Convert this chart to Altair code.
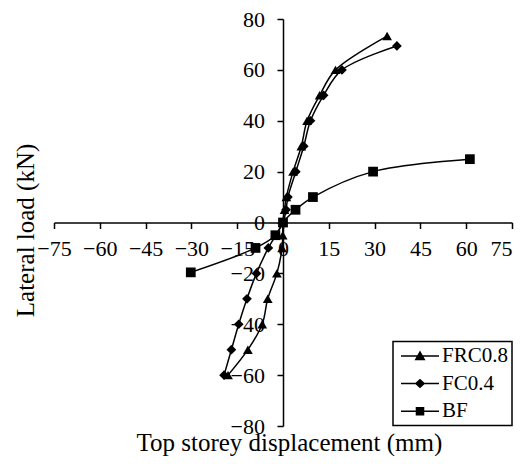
import altair as alt
import pandas as pd

series_names = ["FRC0.8", "FC0.4", "BF"]

frc_disp = [-18.0, -11.5, -6.8, -5.0, -2.0, -0.3, -0.1, 0.0, 0.5, 1.1, 3.3, 6.0, 7.9, 12.0, 17.2, 34.1]
frc_load = [-60, -50, -40, -30, -20, -10, -5, 0, 5, 10, 20, 30, 40, 50, 60, 73.3]

fc_disp = [-19.3, -16.9, -14.5, -11.8, -8.7, -4.8, 0.0, 1.0, 1.6, 4.2, 6.8, 9.0, 13.3, 19.3, 37.3]
fc_load = [-60, -50, -40, -30, -20, -10, 0, 5, 10, 20, 30, 40, 50, 60, 69.4]

bf_disp = [-30.2, -9.0, -2.5, 0.0, 4.1, 9.8, 29.5, 61.2]
bf_load = [-19.6, -10, -5, 0, 5, 10, 20, 24.9]

x_ticks = [-75, -60, -45, -30, -15, 0, 15, 30, 45, 60, 75]
y_ticks = [-80, -60, -40, -20, 0, 20, 40, 60, 80]

rows = []
for name, xs, ys in zip(series_names, [frc_disp, fc_disp, bf_disp], [frc_load, fc_load, bf_load]):
    for i, (xv, yv) in enumerate(zip(xs, ys)):
        rows.append({"series": name, "disp": xv, "load": yv, "idx": i})
df = pd.DataFrame(rows)

FONT = "Liberation Serif"
W, H = 458, 407

x_enc = alt.X(
    "disp:Q",
    scale=alt.Scale(domain=[-75, 75], nice=False, zero=False),
    axis=alt.Axis(
        values=x_ticks, offset=-H / 2, tickSize=6, grid=False,
        domainColor="black", tickColor="black", domainWidth=1.5, tickWidth=1.5,
        labelFont=FONT, labelFontSize=22, labelColor="black", labelPadding=10,
        labelOverlap=False, labelFlush=False,
        labelAlign=alt.ExprRef("datum.value == 75 ? 'right' : 'center'"),
        title="Top storey displacement (mm)", titleFont=FONT, titleFontSize=25,
        titleFontWeight="normal", titleColor="black",
        titleAlign="left", titleBaseline="alphabetic", titleX=82, titleY=227.5,
    ),
)
y_enc = alt.Y(
    "load:Q",
    scale=alt.Scale(domain=[-80, 80], nice=False, zero=False),
    axis=alt.Axis(
        values=y_ticks, offset=-229, tickSize=6, grid=False,
        domainColor="black", tickColor="black", domainWidth=1.5, tickWidth=1.5,
        labelFont=FONT, labelFontSize=22, labelColor="black", labelPadding=12.5,
        labelOverlap=False, labelFlush=False,
        title="Lateral load (kN)", titleFont=FONT, titleFontSize=25,
        titleFontWeight="normal", titleColor="black", titleAngle=270,
        titleAlign="left", titleBaseline="alphabetic", titleX=-250, titleY=297.7,
    ),
)

base = alt.Chart(df)

lines = base.mark_line(color="black", strokeWidth=1.5, interpolate="catmull-rom").encode(
    x=x_enc, y=y_enc, detail="series:N", order="idx:Q"
)

points = base.mark_point(filled=True, color="black", size=95, opacity=1).encode(
    x=x_enc, y=y_enc,
    shape=alt.Shape(
        "series:N",
        scale=alt.Scale(domain=series_names, range=["triangle-up", "diamond", "square"]),
        legend=None,
    ),
)

# legend glyphs: a filled bar (the line) plus the marker, all wound clockwise
legend_paths = [
    "M-2,-0.08H2V0.08H-2ZM0,-0.58L0.58,0.44L-0.58,0.44Z",
    "M-2,-0.08H2V0.08H-2ZM-0.55,0L0,-0.5L0.55,0L0,0.5Z",
    "M-2,-0.08H2V0.08H-2ZM-0.45,-0.45H0.45V0.45H-0.45Z",
]

legend_layer = base.transform_filter("datum.load > 1000").mark_point(
    filled=True, color="black", size=361, opacity=1
).encode(
    x=x_enc, y=y_enc,
    shape=alt.Shape(
        "series:N",
        scale=alt.Scale(domain=series_names, range=legend_paths),
        legend=alt.Legend(
            title=None, orient="none", legendX=339, legendY=322.5,
            labelFont=FONT, labelFontSize=21, labelColor="black",
            strokeColor="black", fillColor="white", padding=4,
            symbolSize=361, symbolOffset=12.5, labelOffset=11.5, rowPadding=5.6,
            symbolFillColor="black", symbolStrokeColor="black", symbolStrokeWidth=0.5,
            symbolOpacity=1,
        ),
    ),
)

chart = (
    alt.layer(lines, points, legend_layer)
    .resolve_scale(shape="independent")
    .properties(
        width=W, height=H,
        autosize=alt.AutoSizeParams(type="none"),
        padding={"left": 46, "top": 11, "right": 3, "bottom": 30},
    )
    .configure_view(stroke=None)
    .configure_legend(strokeWidth=1.5)
)

chart.save("out.html", embed_options={"renderer": "svg", "actions": False})
